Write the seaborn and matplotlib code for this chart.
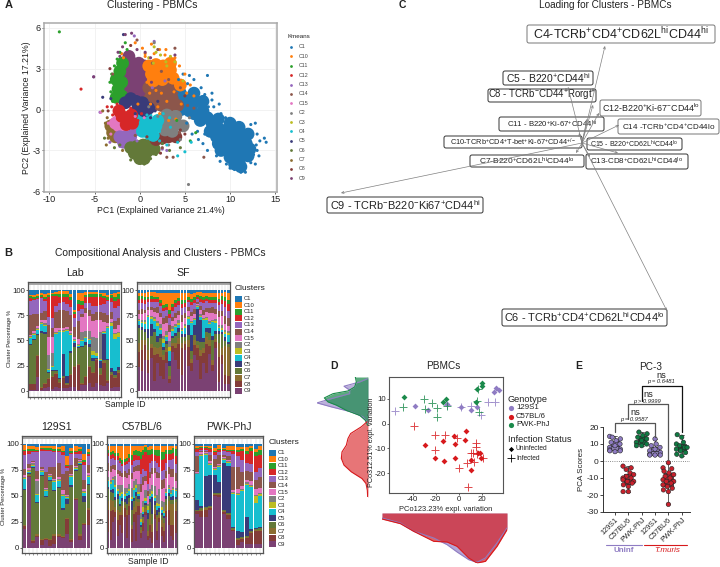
import pandas as pd
import seaborn as sns
import matplotlib
matplotlib.use("Agg")
import matplotlib.pyplot as plt
from matplotlib.patches import FancyBboxPatch, Rectangle

W, H = 720, 567
sns.set_theme(style="white")
plt.rcParams["font.family"] = ["Liberation Sans", "DejaVu Sans"]
plt.rcParams["mathtext.fontset"] = "custom"
plt.rcParams["mathtext.rm"] = "Liberation Sans"
plt.rcParams["mathtext.it"] = "Liberation Sans:italic"
plt.rcParams["mathtext.bf"] = "Liberation Sans:bold"
plt.rcParams["mathtext.default"] = "regular"
plt.rcParams["axes.unicode_minus"] = False

clusters = ["C1", "C10", "C11", "C12", "C13", "C14", "C15", "C2", "C3", "C4", "C5", "C6", "C7", "C8", "C9"]
colors = ["#1F77B4", "#FF7F0E", "#2CA02C", "#D62728", "#9467BD", "#8C564B", "#E377C2", "#7F7F7F",
          "#BCBD22", "#17BECF", "#393B79", "#637939", "#8C6D31", "#843C39", "#7B4173"]
pal = dict(zip(clusters, colors))
# stack order of the bar rows, bottom to top
stack_order = ["C9", "C8", "C7", "C6", "C5", "C4", "C3", "C2", "C15", "C14", "C13", "C12", "C11", "C10", "C1"]

# panel A, dense clouds
c1_core = [(4, .6), (5, .8), (6, .5), (7, -.1), (5.5, -.1), (6.7, -.8), (8, -1), (9, -1.5), (10, -1.7), (11, -2), (11.8, -2.5),
           (8.5, -2), (9.5, -2.5), (10.5, -2.8), (11.5, -3.2), (10, -3.5), (11, -3.8), (9, -3), (11.2, -4.2), (4.5, 1.2), (7.8, -1.6),
           (5, .2), (6, -.3), (6, 1.2), (7.5, -.6), (8.7, -.7), (10, -1), (11, -1.3), (12, -1.8), (9.8, -3), (10.8, -3.3), (12, -3.4),
           (12.2, -2.9), (10.5, -2.2), (9.3, -2), (8.7, -2.5), (10.5, -4), (11.5, -2.5), (3.6, 1.4), (4.6, 0), (7, .6)]
c9_core = [(-1.2, 3.9), (-1.5, 3.3), (-.8, 3.4), (-.1, 3.4), (.5, 3.2), (-1.5, 2.6), (-.8, 2.7), (-.1, 2.7), (.5, 2.5),
           (-1.5, 1.9), (-.8, 2), (-.1, 2), (.5, 1.8), (-1.2, 1.4), (-.5, 1.4), (.2, 1.3)]
c14_core = [(1, 1.6), (1.8, 1.8), (2.6, 1.8), (3.4, 1.5), (1.2, .9), (2, 1), (2.8, 1), (3.6, .8), (1.5, .3), (2.4, .3), (3.2, .2), (.8, .6), (4.2, .3)]
c10_core = [(1, 3.2), (1.8, 3.3), (2.6, 3.2), (3.4, 2.9), (1.3, 2.6), (2.1, 2.6), (2.9, 2.5), (3.7, 2.3), (4.5, 1.8), (3.4, 3.4), (1.5, 2.1), (2.5, 2.2)]
c11_core = [(-2.6, 2.2), (-2.2, 2.8), (-2.4, 1.5), (-2, 2), (-2.6, .9), (-2, 1), (-1.9, 3.4)]
c5_core = [(-.4, .6), (.3, .5), (1, .1), (-1, .8), (-.2, .1), (-1.6, .5), (.5, -.1)]
c12_core = [(-2, -.5), (-1.4, -.6), (-1.5, -1.1), (-.8, -1), (-2.3, -.1), (-.9, -.4)]
c15_core = [(-2.3, -1.2), (-2.7, -1), (-1.8, -1.6), (-1.2, -1.6)]
c7_core = [(-3.2, -1.2), (-3, -1.7), (-2.7, -2), (-2.8, -1.4)]
c13_core = [(-2.2, -2), (-1.6, -2), (-1, -2), (-1.8, -2.4), (-.5, -1.5)]
c6_core = [(-1, -2.8), (-.3, -2.7), (.4, -2.6), (1.1, -2.5), (-.6, -3.2), (.1, -3.2), (.8, -3.1), (0, -3.6), (.5, -3.6), (1.6, -2.9)]
c4_core = [(.2, -1), (1, -1.1), (.3, -1.6), (1, -1.7), (1.8, -1.2), (-.1, -.5), (1.5, -1.9), (2, -.8), (.7, -.5)]
c8_core = [(1.8, -2.2), (2.5, -2.1), (3.2, -2), (4, -2)]
c2_core = [(2.4, -1), (3.2, -1), (4, -1.1), (2.8, -1.5), (3.6, -1.6), (4.8, -1.2), (3, -.4), (4, -.5)]

# panel A, single points around the clouds
c1_pts = [(7.5, 2.5), (8, 1.2), (6, 2.2), (5.5, 2.5), (4.8, 2.6), (6.2, 1.5), (7.2, 1.1), (8.2, .2), (9, -.3), (9.5, -.6), (10.5, -.9), (11.5, -1.3),
          (12.2, -1.5), (13, -1.8), (13.3, -2.3), (14, -2.4), (13.8, -2.1), (13, -3), (13.2, -3.4), (12.8, -4), (12.3, -3.9), (11.7, -4.6), (11.2, -4.6),
          (10.5, -4.4), (10, -4.3), (8.5, -3.4), (7.5, -3), (7, -2.5), (6.5, -2.2), (5.8, -1.8), (5.2, -1), (8.3, -2.7), (12.8, -1), (12.3, -1.1),
          (8.8, .4), (8, .7), (7.6, .2), (6.8, 1.6), (5.3, 1.9), (4.3, 2.2), (8.9, -3.8), (9.6, -4), (6.4, -1.6), (7.2, -1.8), (12.9, -2.6), (12.6, -3.3)]
c10_pts = [(-2, 4.1), (-.5, 4.9), (.3, 4.5), (1.3, 4.8), (2.2, 4.4), (2.8, 4), (3.9, 3.8), (4.4, 3.2), (5, 2.6), (5.6, 1.8), (6, 1), (-1.8, 3.8), (.6, 3.9), (1.2, .4), (2.2, -.3), (4.6, .4), (-.2, .4), (.6, 4.1),
           (1.8, 1.4), (2.4, 1.2), (3, .6), (1.1, 1.2), (3.8, 1.3), (4, -.7), (3.2, -.8), (2, .2), (.8, 2), (5.2, 1.2), (1.6, 4.1), (2.9, 4.4)]
c11_pts = [(-8.9, 5.7), (-3.3, 2), (-3.2, 1.3), (-3.1, 2.6), (-2.8, 3.2), (-2.5, 3.7), (-2.2, 4.2), (-1.6, 4.9), (-3, .6), (-1.4, 4.4), (4.1, -.8), (6.2, -1.7), (5.6, -2.3)]
c12_pts = [(-6.5, 1.5), (-3.6, .2), (-3.1, .2), (-3, -.4), (-2.7, -.1), (-.2, -.8), (.2, -.3), (-1, .1), (-2.5, .4), (-1.8, -.9)]
c13_pts = [(-5.1, 2.4), (-4.4, -.2), (-3.3, -2.4), (-.6, 5.4), (1.6, 5), (-2.2, -2.7), (-.3, -2.3), (3, -3), (2.5, -2.9), (1.4, 1.6), (2.8, 2.1)]
c14_pts = [(-3, 2.6), (-.3, 5.1), (2, 4.4), (2.5, -2.8), (3, -3.5), (3.7, -3.5), (7.1, -3.5), (3.9, 4.5), (-.5, -1.9), (4.5, 1.6), (5.3, .3), (6, .1), (4.4, -1.7), (1.4, 3.4), (2.4, 2.8), (3.2, 2.2), (4.1, 1.2)]
c15_pts = [(-4.3, -.2), (-3.5, -1), (-3.2, -1.8), (-2.8, -.6), (-.5, -.5), (.5, -.6)]
c2_pts = [(5.4, -5.5), (1.6, 4.9), (4.5, -2.2), (5, -1.5), (3.2, -2.6), (1, .2), (5.5, -.6), (2, -.5)]
c3_pts = [(1.6, 4.6), (1.8, 4.2), (2.3, 4), (3.4, 3.9), (3.9, 3.5), (2.9, 3.5), (1, 3.8), (1.5, 3.4), (4.8, 2.1), (3, 3.2)]
c4_pts = [(5, -3.1), (4.2, -3.4), (5.7, -2.4), (3, -2.6), (2.2, -2.3), (.8, -2.1), (3.3, -.6), (2.6, -.3), (.8, -.4), (4.2, -2.4), (3.4, -1.3), (2.2, -1.6)]
c5_pts = [(-4.1, .9), (-1.8, 5.5), (.3, .8), (-.5, -.3), (1.7, -.1), (2, .6), (-3.2, .8), (1.2, -.6), (-1.4, .2)]
c6_pts = [(-2.8, -2.8), (-2.2, -2.6), (-1, -3.7), (.5, -4), (1.8, -3.3), (2.5, -2.5), (3.3, -3), (4.5, -2.8), (-3.9, -2.1), (1.2, -3.6)]
c7_pts = [(-3.7, -2.6), (-3.8, -1), (-4.1, -.1), (-3.6, -.6), (-3.5, -2.1), (-1.9, -3)]
c8_pts = [(-3.3, 3), (-1, 4.7), (-3.5, -.1), (4.5, -1.5), (5, -1.8), (2.3, -3.2), (5, 1), (.8, -2)]
c9_pts = [(-5.1, 2.4), (-1.6, 5.5), (-.9, 5.6), (-2.2, 3.9), (-1.9, 4.6), (-.3, 4.4), (.6, 4.2), (1.2, 3.8), (3.9, 4), (1.3, 2), (-2.4, 4.2)]

a_core = [("C1", c1_core), ("C9", c9_core), ("C14", c14_core), ("C10", c10_core), ("C11", c11_core), ("C7", c7_core), ("C15", c15_core),
          ("C13", c13_core), ("C6", c6_core), ("C8", c8_core), ("C2", c2_core), ("C4", c4_core), ("C5", c5_core), ("C12", c12_core)]
a_pts = [("C1", c1_pts), ("C10", c10_pts), ("C11", c11_pts), ("C12", c12_pts), ("C13", c13_pts), ("C14", c14_pts), ("C15", c15_pts), ("C2", c2_pts),
         ("C3", c3_pts), ("C4", c4_pts), ("C5", c5_pts), ("C6", c6_pts), ("C7", c7_pts), ("C8", c8_pts), ("C9", c9_pts)]

# panel B, one row per sample, columns follow stack_order
lab_bars = [[1,6,0,38,1,6,1,1,1,20,14,3,2,1,5], [1,6,0,43,1,4,1,1,2,17,14,1,2,2,5], [14,20,1,20,1,4,1,1,2,12,15,1,2,2,4],
            [1,2,1,53,2,7,1,1,2,7,15,1,2,2,3], [3,4,1,48,2,6,1,2,3,9,10,2,2,3,4], [4,8,1,5,1,2,1,13,18,12,8,20,2,2,3],
            [2,12,1,5,1,3,1,12,16,9,10,22,2,1,3], [4,13,1,2,1,35,1,1,4,16,6,10,2,2,2], [3,5,1,3,1,45,1,1,2,18,7,6,3,3,1],
            [3,10,1,1,21,22,1,1,2,18,8,5,3,3,1], [3,3,1,1,7,44,1,1,2,16,7,7,3,3,1], [4,12,1,20,2,16,1,1,2,16,8,7,3,3,4],
            [4,20,1,18,4,2,1,1,2,10,9,4,2,2,20], [1,25,1,15,1,1,1,1,5,18,10,7,4,7,3], [6,1,1,35,1,5,1,8,15,3,5,4,4,8,3],
            [6,8,1,30,3,4,1,6,18,5,5,6,2,3,2], [8,16,1,18,3,4,1,8,15,6,7,6,3,2,2], [4,14,1,10,3,3,4,14,16,7,8,9,3,2,2],
            [8,22,1,0,1,2,3,15,18,8,6,9,3,2,2], [6,10,1,6,6,1,1,27,12,8,7,8,3,1,3], [5,23,1,1,26,1,1,1,9,9,9,6,2,3,3],
            [8,2,1,19,1,31,1,1,3,8,14,1,3,2,5], [3,13,1,2,4,41,3,1,3,7,10,4,3,1,4], [4,9,1,2,4,31,5,1,4,8,13,7,4,4,3],
            [4,14,1,2,3,29,4,1,7,7,12,7,5,2,2]]
sf_bars = [[24,14,9,15,3,4,1,1,5,4,7,3,4,3,3], [20,20,10,10,3,4,1,2,6,5,6,4,3,3,3], [30,15,5,8,3,5,2,2,7,3,6,4,3,4,3],
           [18,12,10,12,9,12,1,1,5,3,5,3,2,5,2], [32,10,4,8,12,5,2,1,6,3,5,3,3,4,2], [10,25,8,15,3,8,2,2,5,4,6,3,2,5,2],
           [28,8,6,6,6,10,3,2,8,6,5,3,2,4,3], [15,18,10,9,4,4,2,4,7,4,7,3,3,7,3], [12,18,5,5,3,4,4,3,12,6,7,3,3,12,3],
           [28,10,4,4,3,4,2,4,8,7,6,3,3,11,3], [8,4,3,10,4,10,4,6,9,7,7,4,4,17,3], [38,6,3,5,2,5,2,3,5,4,6,4,3,11,3],
           [30,12,5,7,3,6,1,2,6,5,6,4,3,7,3], [22,24,6,6,4,3,2,3,5,4,6,4,3,5,3], [16,26,5,6,3,3,1,2,6,7,7,4,4,7,3],
           [40,6,3,4,3,6,2,2,6,5,6,4,3,7,3], [25,18,7,5,10,6,2,1,5,4,5,2,3,4,3], [20,8,3,8,16,12,1,1,5,4,7,3,3,5,4],
           [35,10,5,5,10,5,1,1,4,5,6,3,3,4,3], [30,12,3,4,32,2,1,1,1,2,3,2,2,3,2], [12,22,6,8,22,3,1,2,4,4,4,3,3,4,2],
           [28,9,5,6,4,18,1,1,3,5,7,3,3,4,3], [18,28,7,5,4,8,2,1,5,4,7,2,3,3,3], [36,8,6,7,5,4,1,2,8,5,5,3,3,4,3],
           [20,6,4,20,4,14,1,1,7,6,4,3,3,4,3], [42,6,3,5,3,8,2,2,5,5,6,3,3,4,3], [9,24,14,9,3,3,1,2,8,6,6,3,3,6,3],
           [27,8,7,14,2,2,2,3,9,5,7,4,4,3,3], [7,9,28,5,4,3,2,2,6,8,9,6,4,5,2], [7,8,28,3,2,7,2,2,5,8,7,7,4,7,3]]
s129_bars = [[18,3,1,34,1,9,1,1,2,6,13,4,1,5,1], [68,1,1,1,1,1,1,1,2,4,9,3,2,3,2], [5,2,1,69,1,1,1,2,1,1,8,1,2,3,2],
             [11,1,1,30,1,7,1,12,2,8,18,1,1,3,3], [3,5,1,60,1,3,1,1,1,2,15,2,1,2,2], [8,1,1,39,1,5,1,1,1,15,20,1,2,2,2],
             [2,6,1,55,1,3,1,1,1,7,15,1,2,2,2], [4,8,1,42,1,7,1,1,1,12,14,1,2,3,2], [11,1,1,45,1,5,1,1,2,14,10,1,2,2,3],
             [10,1,1,25,1,12,1,1,4,15,18,3,1,5,2], [13,15,1,13,5,1,1,1,1,23,3,2,1,8,12], [6,2,1,50,2,7,1,1,1,9,10,1,2,3,4],
             [46,1,1,26,1,1,1,1,1,8,3,2,1,5,2], [8,4,1,67,1,1,1,1,1,1,4,3,2,2,3], [22,1,1,20,6,3,1,1,2,8,15,3,2,5,10],
             [22,15,1,23,1,6,1,1,2,8,8,2,2,3,5]]
c57_bars = [[15,22,8,12,2,5,1,3,6,8,6,3,3,4,2], [8,28,10,8,2,6,1,2,8,6,7,3,3,6,2], [25,12,8,8,4,8,1,2,8,4,7,3,3,5,2],
            [30,5,4,7,3,10,2,8,6,5,5,3,3,7,2], [12,15,10,10,5,3,2,4,10,4,10,3,3,7,2], [22,10,3,5,2,8,3,8,8,5,8,2,3,11,2],
            [14,18,8,5,3,4,2,7,7,4,7,2,4,13,2], [30,8,3,3,3,3,2,6,10,6,6,3,3,12,2], [10,22,5,5,8,3,1,4,9,5,9,3,3,11,2],
            [32,8,4,4,3,4,2,5,8,6,7,4,3,8,2], [6,12,4,15,8,2,2,9,8,6,8,5,4,9,2], [25,8,6,6,3,8,2,6,9,5,6,5,4,5,2],
            [7,28,10,5,4,4,3,5,8,5,6,4,5,4,2], [32,8,4,3,3,2,2,8,12,6,5,3,5,5,2], [10,4,3,3,2,3,3,6,20,8,9,15,6,6,2],
            [16,8,4,2,3,2,4,6,16,7,8,13,5,4,2], [32,3,3,3,2,2,3,8,8,5,5,18,5,2,1], [8,4,4,12,6,3,3,2,8,5,7,27,5,3,3],
            [10,12,10,12,3,3,2,5,10,6,9,7,5,4,2], [5,10,8,10,16,3,3,6,10,6,7,6,5,3,2], [28,5,5,3,4,3,2,10,12,5,7,5,5,4,2],
            [8,8,14,2,5,3,3,8,16,6,9,6,6,4,2], [25,4,3,3,3,2,2,15,10,5,6,10,6,4,2], [12,8,7,5,2,3,2,6,12,8,9,11,7,6,2],
            [6,10,8,5,2,3,2,8,14,8,9,11,6,6,2], [30,6,5,6,3,3,1,3,10,7,8,8,4,4,2], [22,15,8,5,3,4,1,3,10,7,7,5,4,4,2],
            [12,10,20,4,3,3,1,3,12,8,9,5,4,4,2], [8,14,20,4,4,6,1,2,9,8,10,5,5,2,2], [14,22,8,3,2,6,1,2,6,8,9,7,7,3,2]]
pwk_bars = [[33,3,0,1,9,25,0,1,1,15,4,3,1,2,2], [30,6,1,1,2,48,1,1,2,1,1,2,1,1,2], [30,7,1,1,30,20,1,1,1,1,1,2,1,1,2],
            [37,1,1,1,30,10,1,1,2,5,3,3,1,2,2], [50,1,1,1,17,5,1,1,1,8,3,3,1,3,4], [49,2,1,1,10,15,1,1,1,8,3,2,1,4,1],
            [32,2,1,1,45,3,1,1,1,2,3,1,1,1,4], [28,3,1,1,45,3,1,1,1,4,3,1,1,4,2], [16,1,1,1,1,32,1,1,2,22,12,3,1,4,2],
            [3,5,1,1,6,35,1,1,4,21,10,4,2,3,3], [6,3,1,1,4,40,1,1,3,13,12,8,2,2,3], [4,6,1,1,18,31,1,1,2,9,8,8,3,4,3],
            [4,10,1,1,2,41,1,1,3,9,8,12,3,2,2], [4,12,1,1,1,24,7,1,6,8,8,15,4,3,5], [4,12,1,2,1,30,2,1,5,10,9,12,5,4,2]]

# panel C, loading arrows, offset from the origin
load_names = ["C4", "C5", "C8", "C12", "C11", "C14", "C15", "C13", "C10", "C7", "C9", "C6"]
load_x = [23, -14, 11, 17, 5, 37, 36, 8, -3, -6, -241, 85]
load_y = [97, 56, 38, 30, 24, 18, -10, -14, 10, -10, -50, -168]

# panel D, PCoA points
pur_u = [(-38.3, 7.2), (-26.4, 5.4), (-10.4, 7.7), (2, 6.7), (10.7, 5.3), (16, 6.6), (30.4, 12.7), (32.5, 14.3), (34.8, 13.3)]
pur_i = [(-55.7, 5), (-9.9, 7.5), (10.7, 7.2), (2, 6.7), (19.1, 3.6), (25.2, 8.8), (31.6, 8.8)]
grn_u = [(-47.2, 10.7), (-13.3, 8.8), (-10.7, 10), (15.4, 8.8), (20, 16.4), (20, 15.1), (15.6, 14)]
grn_i = [(-48.4, 6.8), (-30.4, 9.9), (-29, 5.9), (-23.5, 8.1), (-18.6, 6.4), (-18.6, 2.8), (-10.4, 7.2), (15.7, 9.2), (16.8, 13.9), (17.7, 4.5)]
red_u = [(-29.6, -8.7), (-20.6, -13.8), (-13.9, -7), (-12.8, -15), (-4.3, -5), (-3.2, -13.8), (-3.2, -8.3), (5.2, -6.6), (6.1, -3),
         (10.7, -18.6), (10.7, -14.7), (16.5, -11.7), (18.6, -11.7), (19.4, -14)]
red_i = [(-38.6, -1.1), (-20.9, -4.7), (-20.9, -10.6), (-12.2, -4.7), (-1.2, -5.7), (0, -18), (8.4, -25.6), (7, -15.7), (10.7, -11.7),
         (12.8, -12), (13.3, -15.3), (15, -8), (15, -9.4), (15.7, -12.2), (21.4, -13.7)]

# panel D, side densities (position, height)
left_grn_y = [18.8, 16.8, 14.8, 13.2, 12.1, 10.4, 8.8, 7.5, 5.4, 3.4, 1.4, -.6]
left_grn_d = [38, 35, 40, 60, 105, 131, 120, 95, 65, 25, 8, 1]
left_pur_y = [18.2, 16.8, 15.1, 13.5, 12.1, 10.1, 8.4, 6.8, 4.8, 2.8, .8, -.6]
left_pur_d = [0, 25, 72, 55, 55, 110, 153, 110, 50, 15, 3, 0]
left_red_y = [.8, -1.2, -3.9, -5.9, -8.6, -11.3, -13.9, -16.6, -19.3, -22, -24, -26.7, -29.4]
left_red_d = [3, 20, 52, 60, 65, 78, 80, 72, 50, 18, 6, 2, 1]
bot_x = [-66.7, -50.7, -39.1, -21.7, -10.1, -1.4, 8.7, 15.9, 23.2, 33.3, 42]
bot_pur_d = [15, 30, 55, 75, 95, 117, 140, 148, 135, 90, 45]
bot_red_d = [18, 32, 55, 85, 87, 100, 135, 150, 145, 100, 50]

# panel E, PC-3 scores
e_groups = ["129S1 U", "C57BL/6 U", "PWK-PhJ U", "129S1 I", "C57BL/6 I", "PWK-PhJ I"]
e_labels = ["129S1", "C57BL/6", "PWK-PhJ", "129S1", "C57BL/6", "PWK-PhJ"]
e_129u = [14.5, 14, 13, 12, 11, 10, 9, 8, 7, 6.5, 6, 6, 5.5]
e_c57u = [-3, -4, -5, -7, -8, -9, -10, -10, -11, -12, -12, -13, -14, -15, -18, -18]
e_pwku = [17, 16, 15, 14, 13, 12, 11, 10, 9, 9]
e_129i = [13, 10, 9, 8, 7, 6, 5, 4, 3.5, 3.5, 3.5]
e_c57i = [-1, -4, -4.5, -6, -7, -8, -9, -10, -11, -12, -12, -13, -14, -15, -16, -17, -18, -25.5]
e_pwki = [15.5, 14, 11, 10, 9, 8, 8, 7, 6, 5, 4, 3]

PUR, RED, GRN = "#8F7CC3", "#D7191C", "#1B8A4B"
TXT = "#222222"


def axpx(l, t, r, b):
    return fig.add_axes([l / W, 1 - b / H, (r - l) / W, (b - t) / H])


def pts_frame(groups):
    rows = [(name, x, y) for name, pts in groups for x, y in pts]
    return pd.DataFrame(rows, columns=["cluster", "x", "y"])


def bars_panel(l, t, r, b, rows, title, y0, y100):
    ax = axpx(l, t, r, b)
    long = pd.DataFrame(rows, columns=stack_order)
    long = long.div(long.sum(axis=1), axis=0) * 100
    long["sample"] = range(len(rows))
    long = long.melt(id_vars="sample", var_name="cluster", value_name="pct")
    ax.grid(axis="x", color="#C4C4C4", lw=.3)
    ax.set_axisbelow(True)
    sns.histplot(data=long, x="sample", weights="pct", hue="cluster", hue_order=clusters, palette=pal, multiple="stack",
                 discrete=True, shrink=.9, linewidth=0, alpha=1, legend=False, ax=ax)
    unit = (y0 - y100) / 100
    ax.set_ylim((y0 - b) / unit, (y0 - t) / unit)
    ax.set_xlim(-.6, len(rows) - .4)
    ax.axhspan((y0 - t - 3) / unit, (y0 - t) / unit, color="#A8A8A8", lw=0)
    ax.set_xticks(range(len(rows)))
    ax.set_xticklabels([])
    ax.set_yticks([0, 25, 50, 75, 100])
    ax.set_yticklabels(["0", "25", "50", "75", "100"])
    ax.tick_params(axis="x", length=1.5, width=.4, color="#444444", bottom=True)
    ax.tick_params(axis="y", length=1.5, width=.5, labelsize=5.6, pad=.5, left=True, labelcolor=TXT)
    ax.set_xlabel("")
    ax.set_ylabel("")
    for s in ax.spines.values():
        s.set_color("#555555")
        s.set_linewidth(.9)
    ov.text((l + r) / 2, t - 9, title, ha="center", va="center", fontsize=7.6, color=TXT)
    return ax


fig = plt.figure(figsize=(W / 100, H / 100), dpi=100)
ov = fig.add_axes([0, 0, 1, 1], zorder=10)
ov.set_xlim(0, W)
ov.set_ylim(H, 0)
ov.axis("off")
ov.patch.set_alpha(0)

# A
ax = axpx(44, 23, 277, 192)
sns.scatterplot(data=pts_frame(a_core), x="x", y="y", hue="cluster", palette=pal, s=85, linewidth=0, legend=False, ax=ax)
sns.scatterplot(data=pts_frame(a_pts), x="x", y="y", hue="cluster", palette=pal, s=5, linewidth=0, legend=False, ax=ax)
ax.set_xlim(-10.6, 15.2)
ax.set_ylim(-6.05, 6.35)
ax.set_xticks([-10, -5, 0, 5, 10, 15])
ax.set_yticks([-6, -3, 0, 3, 6])
ax.grid(color="#F0F0F0", lw=.6)
ax.set_axisbelow(True)
ax.set_xlabel("PC1 (Explained Variance 21.4%)", fontsize=6.3, labelpad=1, color=TXT)
ax.set_ylabel("PC2 (Explained Variance 17.21%)", fontsize=6.3, labelpad=1, color=TXT)
ax.tick_params(labelsize=6.6, length=1.5, width=.5, pad=1, bottom=True, left=True, labelcolor=TXT)
for s in ax.spines.values():
    s.set_color("#AAAAAA")
    s.set_linewidth(1.1)
ov.text(287, 36, "Kmeans", fontsize=4.5, va="center", color=TXT)
for i, c in enumerate(clusters):
    ov.scatter(291, 47 + i * 9.38, s=4, color=pal[c], linewidth=0)
    ov.text(299, 47 + i * 9.38, c, fontsize=3.8, va="center", color="#444444")

# B
bars_panel(28, 282, 121, 397, lab_bars, "Lab", 390.7, 290)
bars_panel(137, 282, 230, 397, sf_bars, "SF", 390.7, 290)
bars_panel(22, 436, 91, 553, s129_bars, "129S1", 548, 444)
bars_panel(107, 436, 177, 553, c57_bars, "C57BL/6", 548, 444)
bars_panel(194, 436, 263, 553, pwk_bars, "PWK-PhJ", 548, 444)
for lx, ly, sp in [(235, 298.7, 6.57), (269, 452.7, 6.55)]:
    ov.text(lx, ly - 10, "Clusters", fontsize=6, va="center", color=TXT)
    for i, c in enumerate(clusters):
        ov.add_patch(Rectangle((lx, ly + i * sp - 3), 7, 6, color=pal[c], lw=0))
        ov.text(lx + 8.5, ly + i * sp, c, fontsize=4.2, va="center", color=TXT)
ov.text(10, 338, "Cluster Percentage %", rotation=90, fontsize=4.2, ha="center", va="center", color=TXT)
ov.text(3.5, 496, "Cluster Percentage %", rotation=90, fontsize=4.2, ha="center", va="center", color=TXT)
ov.text(125, 404.5, "Sample ID", fontsize=6.2, ha="center", va="center", color=TXT)
ov.text(148, 562, "Sample ID", fontsize=6.2, ha="center", va="center", color=TXT)

# C
axc = axpx(320, 15, 720, 335)
axc.set_xlim(320 - 582, 720 - 582)
axc.set_ylim(143 - 335, 143 - 15)
axc.axis("off")
c_boxes = [
    (527, 25, 715, 43, "C4-TCRb$^{+}$CD4$^{+}$CD62L$^{hi}$CD44$^{hi}$", 9, "#777777"),
    (503, 71, 593, 85, "C5 - B220$^{+}$CD44$^{hi}$", 7.4, "#333333"),
    (488, 89, 596, 102, "C8 - TCRb$^{-}$CD44$^{+}$Rorgt$^{+}$", 6.9, "#333333"),
    (600, 100, 701, 116, "C12-B220$^{+}$Ki-67$^{-}$CD44$^{lo}$", 6.4, "#777777"),
    (499, 117, 604, 131, "C11 - B220$^{+}$Ki-67$^{+}$CD44$^{hi}$", 5.6, "#333333"),
    (618, 119, 719, 134, "C14 -TCRb$^{+}$CD4$^{+}$CD44lo", 5.9, "#777777"),
    (444, 136, 582, 148, "C10-TCRb$^{+}$CD4$^{+}$T-bet$^{+}$Ki-67$^{+}$CD44$^{+/-}$", 5.3, "#333333"),
    (587, 138, 682, 150, "C15 - B220$^{+}$CD62L$^{hi}$CD44$^{lo}$", 5, "#333333"),
    (470, 155, 584, 167, "C7-B220$^{+}$CD62L$^{hi}$CD44$^{lo}$", 6, "#333333"),
    (586, 154, 688, 169, "C13-CD8$^{+}$CD62L$^{hi}$CD44$^{lo}$", 5.8, "#333333"),
    (327, 197, 483, 213, "C9 - TCRb$^{-}$B220$^{-}$Ki67$^{+}$CD44$^{hi}$", 7.9, "#333333"),
    (502, 309, 667, 326, "C6 - TCRb$^{+}$CD4$^{+}$CD62L$^{hi}$CD44$^{lo}$", 7.9, "#333333"),
]
for x0, y0, x1, y1, label, fs, ec in c_boxes:
    axc.add_patch(FancyBboxPatch((x0 - 582, 143 - y1), x1 - x0, y1 - y0, boxstyle="round,pad=0,rounding_size=2",
                                 fc="white", ec=ec, lw=.7))
    axc.text((x0 + x1) / 2 - 582, 143 - (y0 + y1) / 2, label, ha="center", va="center", fontsize=fs, color="#222222")
for name, dx, dy in zip(load_names, load_x, load_y):
    axc.annotate("", xy=(dx, dy), xytext=(0, 0),
                 arrowprops=dict(arrowstyle="->", color="#808080", lw=.5, mutation_scale=4, shrinkA=0, shrinkB=0))

# D
axd = axpx(389, 377, 503, 493)
for pts, col in [(pur_u, PUR), (grn_u, GRN), (red_u, RED)]:
    sns.scatterplot(x=[p[0] for p in pts], y=[p[1] for p in pts], color=col, marker="D", s=9, linewidth=0, ax=axd)
for pts, col in [(pur_i, PUR), (grn_i, GRN), (red_i, RED)]:
    sns.scatterplot(x=[p[0] for p in pts], y=[p[1] for p in pts], color=col, marker="+", s=38, linewidth=.7, alpha=.8, ax=axd)
axd.set_xlim(-60.6, 38.5)
axd.set_ylim(-27.9, 18.7)
axd.set_xticks([-40, -20, 0, 20])
axd.set_yticks([-20, -10, 0, 10])
axd.tick_params(labelsize=5.6, length=1.5, width=.5, pad=1, bottom=True, left=True, labelcolor=TXT)
axd.set_xlabel("PCo123.23% expl. variation", fontsize=5.4, labelpad=1.5, color=TXT)
for s in axd.spines.values():
    s.set_color("#555555")
    s.set_linewidth(.8)
ov.text(371.5, 442, "PCo312.51% expl. variation", rotation=90, fontsize=5.2, ha="center", va="center", color=TXT)

axl = axpx(317, 377, 368, 497)
for ys, ds, col, al in [(left_pur_y, left_pur_d, PUR, .6), (left_grn_y, left_grn_d, GRN, .72), (left_red_y, left_red_d, RED, .6)]:
    axl.fill_betweenx(ys, 0, ds, color=col, alpha=al, lw=0)
    axl.plot(ds, ys, color=col, lw=.8)
axl.plot([0, 0], [-29.4, 0], color=RED, lw=.9)
axl.plot([0, 0], [0, 18.8], color=GRN, lw=.9)
axl.set_xlim(153, 0)
axl.set_ylim(-29.4, 18.8)
axl.axis("off")

axb = axpx(382, 513, 507, 563)
for ds, col in [(bot_pur_d, PUR), (bot_red_d, RED)]:
    axb.fill_between(bot_x, 0, ds, color=col, alpha=.68, lw=0)
    axb.plot(bot_x, ds, color=col, lw=.8)
axb.set_xlim(-66.7, 42)
axb.set_ylim(150, 0)
axb.axis("off")

ov.text(334, 366, "D", fontsize=7.5, fontweight="bold", ha="center", va="center", color=TXT)
ov.text(443, 366, "PBMCs", fontsize=7.2, ha="center", va="center", color=TXT)
ov.text(508, 399, "Genotype", fontsize=6.6, va="center", color=TXT)
for yy, lab, col in [(407.5, "129S1", PUR), (416.5, "C57BL/6", RED), (424.5, "PWK-PhJ", GRN)]:
    ov.scatter(511, yy, s=14, color=col, linewidth=0)
    ov.text(516, yy, lab, fontsize=5.6, va="center", color=TXT)
ov.text(508, 439, "Infection Status", fontsize=6.6, va="center", color=TXT)
ov.scatter(511, 449, s=7, color="black", marker="D", linewidth=0)
ov.text(516, 449, "Uninfected", fontsize=4.8, va="center", color=TXT)
ov.scatter(511, 458, s=40, color="black", marker="+", linewidth=.6)
ov.text(516, 458, "Infected", fontsize=4.8, va="center", color=TXT)

# E
e_values = [e_129u, e_c57u, e_pwku, e_129i, e_c57i, e_pwki]
e_df = pd.DataFrame([(g, v) for g, vals in zip(e_groups, e_values) for v in vals], columns=["group", "score"])
e_pal = dict(zip(e_groups, [PUR, "#C8202C", "#0F7A42", PUR, "#C8202C", "#0F7A42"]))
axe = axpx(603, 427, 690, 512)
sns.boxplot(data=e_df, x="group", y="score", hue="group", order=e_groups, palette=e_pal, whis=(0, 100), width=.62,
            linewidth=.5, linecolor="#222222", legend=False, ax=axe)
sns.swarmplot(data=e_df, x="group", y="score", hue="group", order=e_groups, palette=e_pal, size=3.2, edgecolor="#222222",
              linewidth=.4, legend=False, warn_thresh=1, ax=axe)
# the reference columns are narrower than a swarm at this width
for coll in axe.collections:
    off = coll.get_offsets()
    if len(off):
        mid = round(float(off[:, 0].mean()))
        off[:, 0] = mid + (off[:, 0] - mid) * .5
        coll.set_offsets(off)
axe.axhline(0, color="#666666", lw=.6, ls=":", zorder=0)
axe.set_xlim(-.9, 5.62)
axe.set_ylim(-30, 20)
axe.set_yticks([-30, -20, -10, 0, 10, 20])
axe.set_xticks(range(6))
axe.set_xticklabels(e_labels, rotation=45, ha="right", rotation_mode="anchor", fontsize=5.2)
axe.tick_params(axis="y", labelsize=6, length=2, width=.6, pad=1, left=True, labelcolor=TXT)
axe.tick_params(axis="x", length=2, width=.6, pad=1, bottom=True, labelcolor=TXT)
axe.set_xlabel("")
axe.set_ylabel("PCA Scores", fontsize=5.8, labelpad=1, color=TXT)
sns.despine(ax=axe)
for side in ["left", "bottom"]:
    axe.spines[side].set_color("#333333")
    axe.spines[side].set_linewidth(.7)

ypx = lambda py: 20 - (py - 427) / 1.7
brackets = [(0, 3, 422.7, 431.7, 437.3, "p = 0.9587", 412.7, 420),
            (1, 4, 404, 419, 460, "p > 0.9999", 394.3, 401.7),
            (2, 5, 386, 400.7, 431.7, "p = 0.6481", 375.7, 382)]
for i0, i1, top, d0, d1, ptxt, nsy, py in brackets:
    axe.plot([i0, i0, i1, i1], [ypx(d0), ypx(top), ypx(top), ypx(d1)], color="#555555" if i0 < 2 else "#111111", lw=.9, clip_on=False, zorder=5)
    ov.text(615 + (i0 + i1) / 2 * 13.33, nsy, "ns", fontsize=6.6, ha="center", va="center", color=TXT)
    ov.text(615 + (i0 + i1) / 2 * 13.33 - 1, py, ptxt, fontsize=4.2, style="italic", ha="center", va="center", color=TXT)

ov.plot([606, 642], [545, 545], color=PUR, lw=.8)
ov.plot([644, 687], [545, 545], color=RED, lw=.8)
ov.text(624, 551, "Uninf", fontsize=5.8, fontweight="bold", color=PUR, ha="center", va="center")
ov.text(667, 551, "T.muris", fontsize=5.8, style="italic", color=RED, ha="center", va="center")
ov.text(579, 366, "E", fontsize=7.5, fontweight="bold", ha="center", va="center", color=TXT)
ov.text(651, 367, "PC-3", fontsize=7.2, ha="center", va="center", color=TXT)

# panel headers
ov.text(9, 4.5, "A", fontsize=8, fontweight="bold", ha="center", va="center", color=TXT)
ov.text(152, 4.5, "Clustering - PBMCs", fontsize=7.4, ha="center", va="center", color=TXT)
ov.text(8, 253.5, "B", fontsize=8, fontweight="bold", ha="center", va="center", color=TXT)
ov.text(160, 253.5, "Compositional Analysis and Clusters - PBMCs", fontsize=7.4, ha="center", va="center", color=TXT)
ov.text(402, 4.5, "C", fontsize=7.5, fontweight="bold", ha="center", va="center", color=TXT)
ov.text(605, 4.5, "Loading for Clusters - PBMCs", fontsize=7.2, ha="center", va="center", color=TXT)

fig.savefig("out.png", dpi=100)
